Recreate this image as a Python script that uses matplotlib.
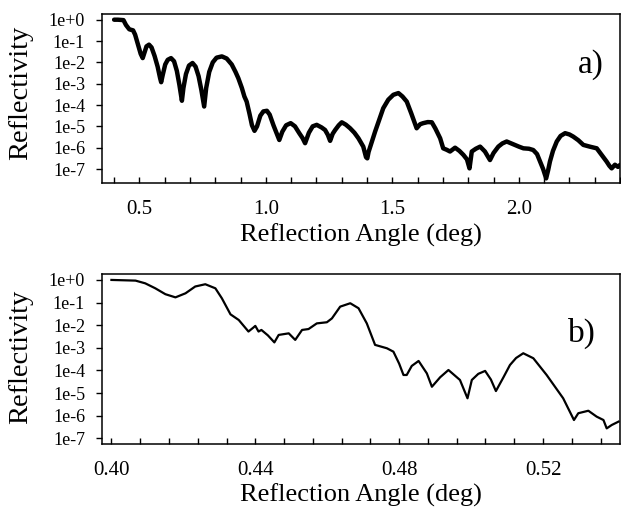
import matplotlib
matplotlib.use('Agg')
import matplotlib.pyplot as plt
from matplotlib.ticker import MultipleLocator, FixedLocator, FixedFormatter, NullLocator

plt.rcParams['font.family'] = ['Liberation Serif', 'DejaVu Serif']

# panel a) : reflection angle (deg) and log10 of reflectivity
angle_a = [0.400, 0.415, 0.437, 0.447, 0.460, 0.475, 0.483, 0.495, 0.505, 0.513,
           0.520, 0.528, 0.538, 0.548, 0.560, 0.572, 0.582, 0.586, 0.592, 0.602,
           0.612, 0.625, 0.637, 0.648, 0.658, 0.668, 0.674, 0.684, 0.696, 0.710,
           0.722, 0.734, 0.745, 0.756, 0.764, 0.776, 0.790, 0.805, 0.826, 0.845,
           0.865, 0.880, 0.891, 0.905, 0.915, 0.924, 0.935, 0.945, 0.955, 0.965,
           0.978, 0.990, 1.004, 1.015, 1.030, 1.045, 1.053, 1.065, 1.080, 1.098,
           1.115, 1.132, 1.145, 1.155, 1.170, 1.185, 1.201, 1.220, 1.234, 1.245,
           1.254, 1.264, 1.274, 1.288, 1.300, 1.316, 1.333, 1.350, 1.366, 1.385,
           1.396, 1.401, 1.406, 1.418, 1.432, 1.448, 1.464, 1.484, 1.504, 1.524,
           1.540, 1.557, 1.575, 1.596, 1.610, 1.622, 1.640, 1.656, 1.670, 1.689,
           1.701, 1.715, 1.728, 1.748, 1.765, 1.781, 1.795, 1.805, 1.814, 1.830,
           1.847, 1.866, 1.886, 1.900, 1.919, 1.935, 1.952, 1.970, 1.985, 2.000,
           2.018, 2.040, 2.057, 2.072, 2.084, 2.096, 2.108, 2.116, 2.123, 2.135,
           2.150, 2.165, 2.183, 2.200, 2.215, 2.235, 2.255, 2.280, 2.308, 2.325,
           2.347, 2.358, 2.367, 2.380, 2.392, 2.400]
logr_a = [0.00, 0.00, -0.02, -0.25, -0.45, -0.50, -0.70, -1.20, -1.60, -1.80,
          -1.55, -1.25, -1.17, -1.30, -1.70, -2.20, -2.75, -2.93, -2.60, -2.10,
          -1.88, -1.80, -1.95, -2.40, -3.05, -3.80, -3.20, -2.55, -2.15, -2.03,
          -2.20, -2.65, -3.30, -4.07, -3.20, -2.45, -2.00, -1.78, -1.72, -1.82,
          -2.10, -2.45, -2.74, -3.20, -3.60, -3.84, -4.40, -4.95, -5.21, -5.00,
          -4.50, -4.30, -4.27, -4.45, -4.95, -5.40, -5.64, -5.25, -4.95, -4.85,
          -5.00, -5.32, -5.55, -5.79, -5.30, -5.00, -4.93, -5.05, -5.17, -5.40,
          -5.68, -5.35, -5.17, -4.95, -4.81, -4.92, -5.09, -5.30, -5.56, -5.95,
          -6.45, -6.50, -6.20, -5.75, -5.24, -4.70, -4.15, -3.75, -3.52, -3.44,
          -3.60, -3.84, -4.40, -5.09, -4.90, -4.85, -4.80, -4.81, -5.10, -5.56,
          -6.03, -6.10, -6.18, -6.00, -6.15, -6.34, -6.55, -6.97, -6.18, -6.05,
          -5.95, -6.18, -6.58, -6.25, -5.95, -5.80, -5.71, -5.80, -5.87, -5.95,
          -6.03, -6.05, -6.11, -6.30, -6.65, -7.00, -7.44, -7.05, -6.65, -6.15,
          -5.71, -5.45, -5.32, -5.38, -5.48, -5.65, -5.87, -5.95, -6.03, -6.30,
          -6.65, -6.85, -6.97, -6.80, -6.90, -6.81]

# panel b) : narrow angular range
angle_b = [0.4000, 0.4067, 0.4094, 0.4122, 0.4150, 0.4178, 0.4206, 0.4233, 0.4261, 0.4289,
           0.4307, 0.4331, 0.4354, 0.4381, 0.4395, 0.4400, 0.4409, 0.4417, 0.4435, 0.4453,
           0.4465, 0.4493, 0.4511, 0.4530, 0.4548, 0.4571, 0.4599, 0.4613, 0.4636, 0.4664,
           0.4687, 0.4710, 0.4733, 0.4766, 0.4784, 0.4800, 0.4812, 0.4821, 0.4835, 0.4854,
           0.4877, 0.4891, 0.4914, 0.4937, 0.4969, 0.4990, 0.5002, 0.5020, 0.5039, 0.5055,
           0.5069, 0.5090, 0.5108, 0.5125, 0.5145, 0.5173, 0.5210, 0.5256, 0.5286, 0.5298,
           0.5326, 0.5349, 0.5368, 0.5377, 0.5391, 0.5410]
logr_b = [0.00, -0.03, -0.15, -0.37, -0.63, -0.77, -0.59, -0.29, -0.19, -0.37,
          -0.81, -1.52, -1.77, -2.28, -2.10, -2.03, -2.28, -2.21, -2.45, -2.76,
          -2.43, -2.36, -2.65, -2.21, -2.17, -1.92, -1.87, -1.70, -1.18, -1.03,
          -1.25, -1.92, -2.87, -3.02, -3.17, -3.70, -4.20, -4.20, -3.80, -3.58,
          -4.13, -4.72, -4.30, -3.98, -4.42, -5.23, -4.42, -4.15, -4.02, -4.40,
          -4.91, -4.30, -3.76, -3.45, -3.24, -3.46, -4.20, -5.23, -6.19, -5.89,
          -5.78, -6.04, -6.19, -6.56, -6.41, -6.26]

ytick_vals = [1e0, 1e-1, 1e-2, 1e-3, 1e-4, 1e-5, 1e-6, 1e-7]
ytick_labels = ['1e+0', '1e-1', '1e-2', '1e-3', '1e-4', '1e-5', '1e-6', '1e-7']
xticks_a = [0.5, 1.0, 1.5, 2.0]
xtick_labels_a = ['0.5', '1.0', '1.5', '2.0']
xticks_b = [0.40, 0.44, 0.48, 0.52]
xtick_labels_b = ['0.40', '0.44', '0.48', '0.52']

fig = plt.figure(figsize=(6.21, 5.12), dpi=100)
ax1 = fig.add_axes([0.1638, 0.642, 0.8346, 0.3316])
ax2 = fig.add_axes([0.1638, 0.1328, 0.8346, 0.3315])

ax1.plot(angle_a, [10 ** v for v in logr_a], color='black', lw=3.2,
         solid_joinstyle='round', solid_capstyle='round')
ax2.plot(angle_b, [10 ** v for v in logr_b], color='black', lw=1.6,
         solid_joinstyle='round')

for ax in (ax1, ax2):
    ax.set_yscale('log')
    ax.yaxis.set_major_locator(FixedLocator(ytick_vals))
    ax.yaxis.set_major_formatter(FixedFormatter(ytick_labels))
    ax.yaxis.set_minor_locator(NullLocator())
    ax.tick_params(axis='y', direction='out', length=4, width=1, pad=8, labelsize=13)
    ax.tick_params(axis='x', which='both', direction='in', length=4, width=1,
                   pad=12, labelsize=15)
    for s in ax.spines.values():
        s.set_linewidth(1.1)
    ax.set_xlabel('Reflection Angle (deg)', fontsize=19, labelpad=3)
    ax.set_ylabel('Reflectivity', fontsize=20.5)

ax1.set_xlim(0.351, 2.40)
ax1.set_ylim(10 ** -7.67, 10 ** 0.29)
ax1.set_xticks(xticks_a, xtick_labels_a)
ax1.xaxis.set_minor_locator(MultipleLocator(0.1))
ax1.yaxis.set_label_coords(-0.1325, 0.535)
ax1.text(0.943, 0.70, 'a)', transform=ax1.transAxes, fontsize=24,
         ha='center', va='center')

ax2.set_xlim(0.3973, 0.5414)
ax2.set_ylim(10 ** -7.25, 10 ** 0.25)
ax2.set_xticks(xticks_b, xtick_labels_b)
ax2.xaxis.set_minor_locator(MultipleLocator(0.008))
ax2.yaxis.set_label_coords(-0.1325, 0.514)
ax2.text(0.927, 0.65, 'b)', transform=ax2.transAxes, fontsize=24,
         ha='center', va='center')

fig.savefig('out.png', dpi=100)
